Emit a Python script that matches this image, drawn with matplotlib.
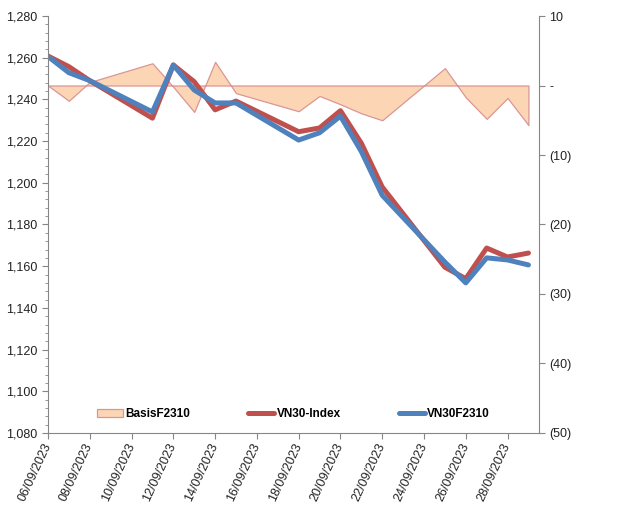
import matplotlib
matplotlib.use("Agg")
import matplotlib.pyplot as plt
import matplotlib.dates as mdates
import matplotlib.ticker as mticker
import numpy as np
import pandas as pd

plt.rcParams["font.family"] = ["Liberation Sans", "DejaVu Sans"]

# trading days, Sept 2023
dates = pd.to_datetime([
    "2023-09-06", "2023-09-07", "2023-09-08", "2023-09-11", "2023-09-12",
    "2023-09-13", "2023-09-14", "2023-09-15", "2023-09-18", "2023-09-19",
    "2023-09-20", "2023-09-21", "2023-09-22", "2023-09-25", "2023-09-26",
    "2023-09-27", "2023-09-28", "2023-09-29",
])
vn30_index = [1260.8, 1255.7, 1249.0, 1231.0, 1256.5, 1248.5, 1235.0, 1239.2, 1224.5,
              1226.3, 1234.6, 1219.0, 1198.0, 1159.5, 1154.0, 1168.7, 1164.4, 1166.3]
vn30f2310 = [1260.6, 1252.8, 1249.0, 1234.0, 1256.5, 1244.5, 1238.3, 1238.3, 1220.5,
             1224.0, 1232.0, 1215.0, 1194.0, 1162.0, 1152.0, 1164.0, 1163.0, 1160.6]
basis = [0.0, -2.2, 0.5, 3.2, -0.2, -3.8, 3.4, -1.1, -3.7,
         -1.5, -2.7, -4.0, -5.0, 2.5, -1.7, -4.8, -1.8, -5.7]

grey = "#868686"
fig = plt.figure(figsize=(6.4, 5.05), dpi=100)
ax = fig.add_axes([0.075, 0.1426, 0.767, 0.8257])
ax2 = ax.twinx()

ax2.fill_between(dates, basis, 0, facecolor="#FCD5B5", edgecolor="#DA9694",
                 linewidth=0.9, label="BasisF2310")
ax.plot(dates, vn30_index, color="#C0504D", linewidth=3.6, solid_capstyle="round",
        solid_joinstyle="round", label="VN30-Index")
ax.plot(dates, vn30f2310, color="#4F81BD", linewidth=3.6, solid_capstyle="round",
        solid_joinstyle="round", label="VN30F2310")

# keep the price lines above the basis area
ax.set_zorder(ax2.get_zorder() + 1)
ax.patch.set_visible(False)

ax.set_ylim(1080, 1280)
ax.yaxis.set_major_locator(mticker.MultipleLocator(20))
ax.yaxis.set_minor_locator(mticker.MultipleLocator(4))
ax.yaxis.set_major_formatter(mticker.FuncFormatter(lambda v, p: f"{v:,.0f}"))

ax2.set_ylim(-50, 10)
ax2.yaxis.set_major_locator(mticker.MultipleLocator(10))


def paren(v, p):
    if abs(v) < 1e-9:
        return "-"
    if v < 0:
        return f"({-v:.0f})"
    return f"{v:.0f}"


ax2.yaxis.set_major_formatter(mticker.FuncFormatter(paren))

x0 = mdates.date2num(pd.Timestamp("2023-09-06"))
ax.set_xlim(x0, x0 + 23.5)
ax.xaxis.set_major_locator(mticker.FixedLocator(np.arange(x0, x0 + 23, 2)))
ax.xaxis.set_major_formatter(mdates.DateFormatter("%d/%m/%Y"))
for lbl in ax.get_xticklabels():
    lbl.set_rotation(65)
    lbl.set_ha("right")
    lbl.set_va("center")
    lbl.set_rotation_mode("anchor")

for a in (ax, ax2):
    for s in a.spines.values():
        s.set_color(grey)
    a.spines["top"].set_visible(False)
    a.tick_params(which="both", color=grey, labelsize=9, labelcolor="#222222")
    a.tick_params(which="major", length=4)
    a.tick_params(which="minor", length=2.5)
ax.spines["right"].set_visible(False)
ax2.spines["left"].set_visible(False)
ax2.spines["bottom"].set_visible(False)
ax.tick_params(axis="x", pad=4)

h1, l1 = ax2.get_legend_handles_labels()
h2, l2 = ax.get_legend_handles_labels()
leg = ax.legend(h1 + h2, l1 + l2, loc="lower center", bbox_to_anchor=(0.5, 0.005),
                ncol=3, frameon=False, columnspacing=4.9, handlelength=2.2,
                handletextpad=0.2, prop={"weight": "bold", "size": 8.5})

fig.savefig("out.png", dpi=100)
